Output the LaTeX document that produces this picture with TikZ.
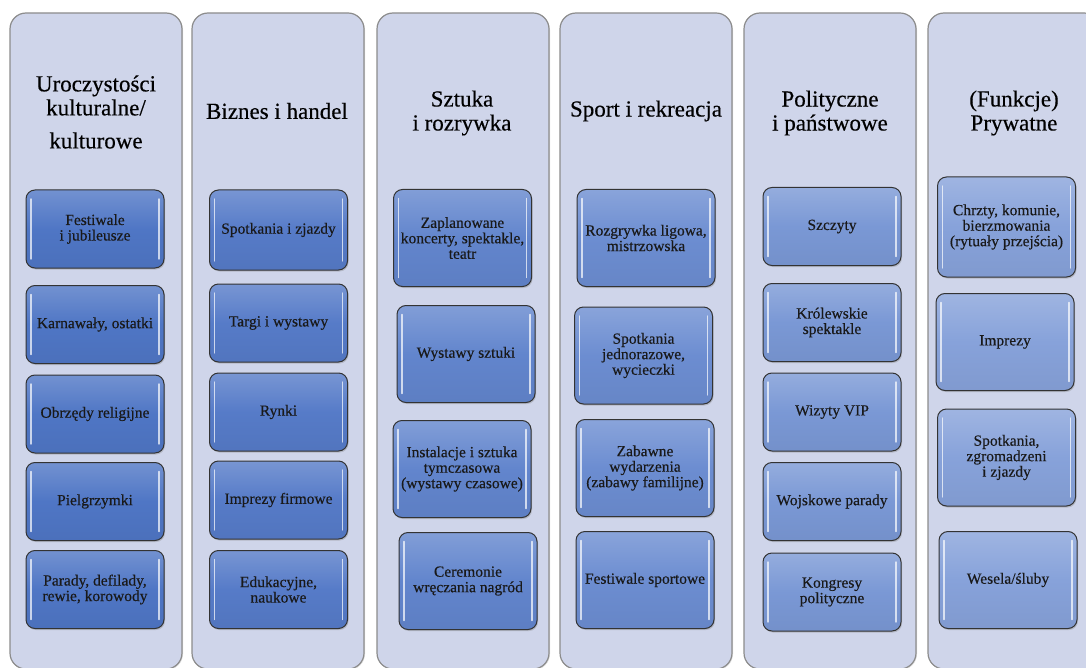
\documentclass[tikz,border=0pt]{standalone}
\usepackage{fontspec}
\setmainfont{Liberation Serif}
% slightly heavier strokes, like text set with a soft shadow
\newfontfamily\tnr{Liberation Serif}[FakeBold=0.35]
\usetikzlibrary{shadows}
\definecolor{colbg}{HTML}{CFD5EA}
\definecolor{colrule}{HTML}{8C8C8C}
\definecolor{boxrule}{HTML}{333333}
\definecolor{fa}{HTML}{4F76C5}
\definecolor{fb}{HTML}{567BC8}
\definecolor{fc}{HTML}{6285CD}
\definecolor{fd}{HTML}{6C8DD1}
\definecolor{fe}{HTML}{7A98D5}
\definecolor{ff}{HTML}{87A2DA}
\tikzset{
  column/.style={draw=colrule, line width=1.2pt, fill=colbg, rounded corners=16pt,
    drop shadow={opacity=.25, shadow xshift=1pt, shadow yshift=-1pt}},
  header/.style={align=center, font=\tnr\fontsize{23}{24}\selectfont, text=black},
  item/.style={draw=boxrule, line width=1pt, rounded corners=9pt,
    top color=#1!80!white, bottom color=#1!95!black, middle color=#1,
    minimum width=138pt, minimum height=78pt, align=center, text=black!90,
    font=\tnr\fontsize{15.5}{15.5}\selectfont, inner sep=2pt,
    drop shadow={opacity=.35, shadow xshift=1pt, shadow yshift=-1.5pt},
    path picture={
      \draw[white, opacity=.7, line width=1.4pt, line cap=round]
        ([xshift=5pt,yshift=-9pt]path picture bounding box.north west) --
        ([xshift=5pt,yshift=9pt]path picture bounding box.south west);
      \draw[white, opacity=.7, line width=1.4pt, line cap=round]
        ([xshift=-5pt,yshift=-9pt]path picture bounding box.north east) --
        ([xshift=-5pt,yshift=9pt]path picture bounding box.south east);
    }},
  tall/.style={minimum height=97pt}
}
\begin{document}
\begin{tikzpicture}[x=1pt, y=-1pt]
  \useasboundingbox (0,0) rectangle (1086,668);
  \clip (0,0) rectangle (1086,668);

  % six category columns
  \foreach \cx in {10,192,377,560,744,928}
    \draw[column] (\cx,13) rectangle ++(172,656);

  % column headings
  \node[header] (h1) at (96,112) {Uroczystości\\kulturalne/\\[9pt]kulturowe};
  \node[header] (h2) at (277,111) {Biznes i handel};
  \node[header] (h3) at (462,113) {Sztuka\\i rozrywka};
  \node[header] (h4) at (646,111) {Sport i rekreacja};
  \node[header] (h5) at (830,113) {Polityczne\\i państwowe};
  \node[header] (h6) at (1014,113) {(Funkcje)\\Prywatne};

  % column 1
  \node[item=fa] (a1) at (95,229)   {Festiwale\\i jubileusze};
  \node[item=fa] (a2) at (95,324.5) {Karnawały, ostatki};
  \node[item=fa] (a3) at (95,414)   {Obrzędy religijne};
  \node[item=fa] (a4) at (95,501.5) {Pielgrzymki};
  \node[item=fa] (a5) at (95,589.5) {Parady, defilady,\\rewie, korowody};

  % column 2
  \node[item=fb, minimum height=80pt] (b1) at (278.5,230) {Spotkania i zjazdy};
  \node[item=fb] (b2) at (278.5,323)   {Targi i wystawy};
  \node[item=fb] (b3) at (278.5,412)   {Rynki};
  \node[item=fb] (b4) at (278.5,500)   {Imprezy firmowe};
  \node[item=fb] (b5) at (278.5,589.5) {Edukacyjne,\\naukowe};

  % column 3
  \node[item=fc, tall] (c1) at (462.5,238) {Zaplanowane\\koncerty, spektakle,\\teatr};
  \node[item=fc, tall] (c2) at (466,354)   {Wystawy sztuki};
  \node[item=fc, tall] (c3) at (462,469)   {Instalacje i sztuka\\tymczasowa\\(wystawy czasowe)};
  \node[item=fc, tall] (c4) at (468,581)   {Ceremonie\\wręczania nagród};

  % column 4
  \node[item=fd, tall] (d1) at (646,238)   {Rozgrywka ligowa,\\mistrzowska};
  \node[item=fd, tall] (d2) at (643.5,355.5) {Spotkania\\jednorazowe,\\wycieczki};
  \node[item=fd, tall] (d3) at (645,468)   {Zabawne\\wydarzenia\\(zabawy familijne)};
  \node[item=fd, tall] (d4) at (645,580)   {Festiwale sportowe};

  % column 5
  \node[item=fe] (e1) at (832,226.5) {Szczyty};
  \node[item=fe] (e2) at (832,322.5) {Królewskie\\spektakle};
  \node[item=fe] (e3) at (832,412)   {Wizyty VIP};
  \node[item=fe] (e4) at (832,501.5) {Wojskowe parady};
  \node[item=fe] (e5) at (832,592)   {Kongresy\\polityczne};

  % column 6
  \node[item=ff, minimum height=100pt] (f1) at (1006.5,227) {Chrzty, komunie,\\bierzmowania\\(rytuały przejścia)};
  \node[item=ff, tall] (f2) at (1005,342)   {Imprezy};
  \node[item=ff, tall] (f3) at (1006.5,457.5) {Spotkania,\\zgromadzeni\\i zjazdy};
  \node[item=ff, tall] (f4) at (1008,580)   {Wesela/śluby};
\end{tikzpicture}
\end{document}
